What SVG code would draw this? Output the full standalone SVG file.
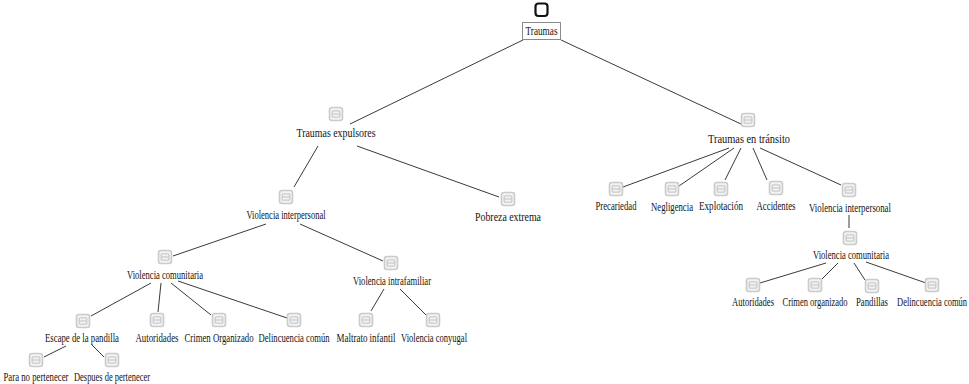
<svg xmlns="http://www.w3.org/2000/svg" width="969" height="384" viewBox="0 0 969 384">
  <defs>
    <style>
      .lbl { font-family: 'Liberation Serif', 'DejaVu Serif', serif; font-size: 12.5px; fill: #141414; text-anchor: middle; }
      .big { font-size: 13.5px; }
      .edge { stroke: #3a3a3a; stroke-width: 1; fill: none; }
      .ico-outer { fill: #f3f3f3; stroke: #cbcbcb; stroke-width: 1.6; }
      .ico-inner { fill: none; stroke: #cbcbcb; stroke-width: 1.3; }
    </style>
    <!-- light grey note icon used on every topic -->
    <g id="note">
      <rect class="ico-outer" x="-6.5" y="-6.5" width="13" height="13" rx="2.5"/>
      <rect class="ico-inner" x="-3.8" y="-3.2" width="7.6" height="6.4" rx="1"/>
      <line class="ico-inner" x1="-3.8" y1="0" x2="3.8" y2="0"/>
    </g>
  </defs>

  <rect width="969" height="384" fill="#ffffff"/>

  <!-- connectors -->
  <g id="connectors">
    <line class="edge" x1="523" y1="40" x2="350" y2="124"/>
    <line class="edge" x1="561" y1="40" x2="741" y2="124"/>

    <line class="edge" x1="318" y1="146" x2="294" y2="187"/>
    <line class="edge" x1="357" y1="146" x2="499" y2="197"/>

    <line class="edge" x1="266" y1="224" x2="173" y2="256"/>
    <line class="edge" x1="300" y1="224" x2="383" y2="261"/>

    <line class="edge" x1="151" y1="283" x2="91" y2="316"/>
    <line class="edge" x1="161" y1="283" x2="158" y2="312"/>
    <line class="edge" x1="171" y1="283" x2="211" y2="315"/>
    <line class="edge" x1="178" y1="281" x2="287" y2="318"/>

    <line class="edge" x1="384" y1="289" x2="371" y2="311"/>
    <line class="edge" x1="400" y1="289" x2="426" y2="315"/>

    <line class="edge" x1="66" y1="346" x2="44" y2="357"/>
    <line class="edge" x1="92" y1="345" x2="104" y2="357"/>

    <line class="edge" x1="729" y1="148" x2="623" y2="187"/>
    <line class="edge" x1="734" y1="148" x2="679" y2="186"/>
    <line class="edge" x1="741" y1="148" x2="725" y2="180"/>
    <line class="edge" x1="753" y1="148" x2="767" y2="180"/>
    <line class="edge" x1="760" y1="148" x2="841" y2="185"/>

    <line class="edge" x1="849" y1="215" x2="849" y2="228"/>

    <line class="edge" x1="826" y1="263" x2="760" y2="283"/>
    <line class="edge" x1="838" y1="263" x2="822" y2="279"/>
    <line class="edge" x1="854" y1="263" x2="865" y2="280"/>
    <line class="edge" x1="866" y1="262" x2="926" y2="283"/>
  </g>

  <!-- root -->
  <g id="n-traumas">
    <rect x="535.5" y="3.5" width="12" height="12.5" rx="3" fill="#ffffff" stroke="#111111" stroke-width="2.2"/>
    <rect x="522.5" y="22.5" width="38" height="17" fill="#ffffff" stroke="#8a8a8a" stroke-width="1"/>
    <text class="lbl" transform="translate(541.5,35) scale(0.7,1)" textLength="45.7" lengthAdjust="spacingAndGlyphs">Traumas</text>
  </g>

  <!-- left branch -->
  <g id="n-expulsores">
    <use href="#note" x="336" y="114"/>
    <text class="lbl big" transform="translate(336,137) scale(0.7,1)" textLength="112.9" lengthAdjust="spacingAndGlyphs">Traumas expulsores</text>
  </g>
  <g id="n-interpersonal-l">
    <use href="#note" x="286" y="197"/>
    <text class="lbl" transform="translate(286,219) scale(0.7,1)" textLength="112.9" lengthAdjust="spacingAndGlyphs">Violencia interpersonal</text>
  </g>
  <g id="n-pobreza">
    <use href="#note" x="508" y="199"/>
    <text class="lbl" transform="translate(508,221) scale(0.7,1)" textLength="94.3" lengthAdjust="spacingAndGlyphs">Pobreza extrema</text>
  </g>
  <g id="n-comunitaria-l">
    <use href="#note" x="165" y="257"/>
    <text class="lbl" transform="translate(165,279) scale(0.7,1)" textLength="108.6" lengthAdjust="spacingAndGlyphs">Violencia comunitaria</text>
  </g>
  <g id="n-intrafamiliar">
    <use href="#note" x="391" y="263"/>
    <text class="lbl" transform="translate(392,285) scale(0.7,1)" textLength="111.4" lengthAdjust="spacingAndGlyphs">Violencia intrafamiliar</text>
  </g>
  <g id="n-escape">
    <use href="#note" x="83" y="321"/>
    <text class="lbl" transform="translate(82,342) scale(0.7,1)" textLength="105.7" lengthAdjust="spacingAndGlyphs">Escape de la pandilla</text>
  </g>
  <g id="n-autoridades-l">
    <use href="#note" x="157" y="320"/>
    <text class="lbl" transform="translate(157,342) scale(0.7,1)" textLength="61.4" lengthAdjust="spacingAndGlyphs">Autoridades</text>
  </g>
  <g id="n-crimen-l">
    <use href="#note" x="219" y="320"/>
    <text class="lbl" transform="translate(219,342) scale(0.7,1)" textLength="98.6" lengthAdjust="spacingAndGlyphs">Crimen Organizado</text>
  </g>
  <g id="n-delincuencia-l">
    <use href="#note" x="294" y="320"/>
    <text class="lbl" transform="translate(294,342) scale(0.7,1)" textLength="101.4" lengthAdjust="spacingAndGlyphs">Delincuencia común</text>
  </g>
  <g id="n-maltrato">
    <use href="#note" x="366" y="320"/>
    <text class="lbl" transform="translate(366,342) scale(0.7,1)" textLength="84.3" lengthAdjust="spacingAndGlyphs">Maltrato infantil</text>
  </g>
  <g id="n-conyugal">
    <use href="#note" x="433" y="320"/>
    <text class="lbl" transform="translate(434,342) scale(0.7,1)" textLength="94.3" lengthAdjust="spacingAndGlyphs">Violencia conyugal</text>
  </g>
  <g id="n-para-no">
    <use href="#note" x="36" y="360"/>
    <text class="lbl" transform="translate(36,381) scale(0.7,1)" textLength="92.9" lengthAdjust="spacingAndGlyphs">Para no pertenecer</text>
  </g>
  <g id="n-despues">
    <use href="#note" x="112" y="360"/>
    <text class="lbl" transform="translate(112,381) scale(0.7,1)" textLength="108.6" lengthAdjust="spacingAndGlyphs">Despues de pertenecer</text>
  </g>

  <!-- right branch -->
  <g id="n-transito">
    <use href="#note" x="748" y="120"/>
    <text class="lbl big" transform="translate(749,143) scale(0.7,1)" textLength="117.1" lengthAdjust="spacingAndGlyphs">Traumas en tránsito</text>
  </g>
  <g id="n-precariedad">
    <use href="#note" x="616" y="189"/>
    <text class="lbl" transform="translate(616,210) scale(0.7,1)" textLength="58.6" lengthAdjust="spacingAndGlyphs">Precariedad</text>
  </g>
  <g id="n-negligencia">
    <use href="#note" x="672" y="189"/>
    <text class="lbl" transform="translate(672,211) scale(0.7,1)" textLength="60" lengthAdjust="spacingAndGlyphs">Negligencia</text>
  </g>
  <g id="n-explotacion">
    <use href="#note" x="721" y="189"/>
    <text class="lbl" transform="translate(721,210) scale(0.7,1)" textLength="62.9" lengthAdjust="spacingAndGlyphs">Explotación</text>
  </g>
  <g id="n-accidentes">
    <use href="#note" x="776" y="188"/>
    <text class="lbl" transform="translate(776,210) scale(0.7,1)" textLength="55.7" lengthAdjust="spacingAndGlyphs">Accidentes</text>
  </g>
  <g id="n-interpersonal-r">
    <use href="#note" x="849" y="190"/>
    <text class="lbl" transform="translate(850,212) scale(0.7,1)" textLength="117.1" lengthAdjust="spacingAndGlyphs">Violencia interpersonal</text>
  </g>
  <g id="n-comunitaria-r">
    <use href="#note" x="850" y="238"/>
    <text class="lbl" transform="translate(851,259) scale(0.7,1)" textLength="108.6" lengthAdjust="spacingAndGlyphs">Violencia comunitaria</text>
  </g>
  <g id="n-autoridades-r">
    <use href="#note" x="753" y="285"/>
    <text class="lbl" transform="translate(753,306) scale(0.7,1)" textLength="60" lengthAdjust="spacingAndGlyphs">Autoridades</text>
  </g>
  <g id="n-crimen-r">
    <use href="#note" x="815" y="285"/>
    <text class="lbl" transform="translate(815,306) scale(0.7,1)" textLength="92.9" lengthAdjust="spacingAndGlyphs">Crimen organizado</text>
  </g>
  <g id="n-pandillas">
    <use href="#note" x="872" y="286"/>
    <text class="lbl" transform="translate(872,306) scale(0.7,1)" textLength="45.7" lengthAdjust="spacingAndGlyphs">Pandillas</text>
  </g>
  <g id="n-delincuencia-r">
    <use href="#note" x="932" y="285"/>
    <text class="lbl" transform="translate(932,306) scale(0.7,1)" textLength="100" lengthAdjust="spacingAndGlyphs">Delincuencia común</text>
  </g>
</svg>
